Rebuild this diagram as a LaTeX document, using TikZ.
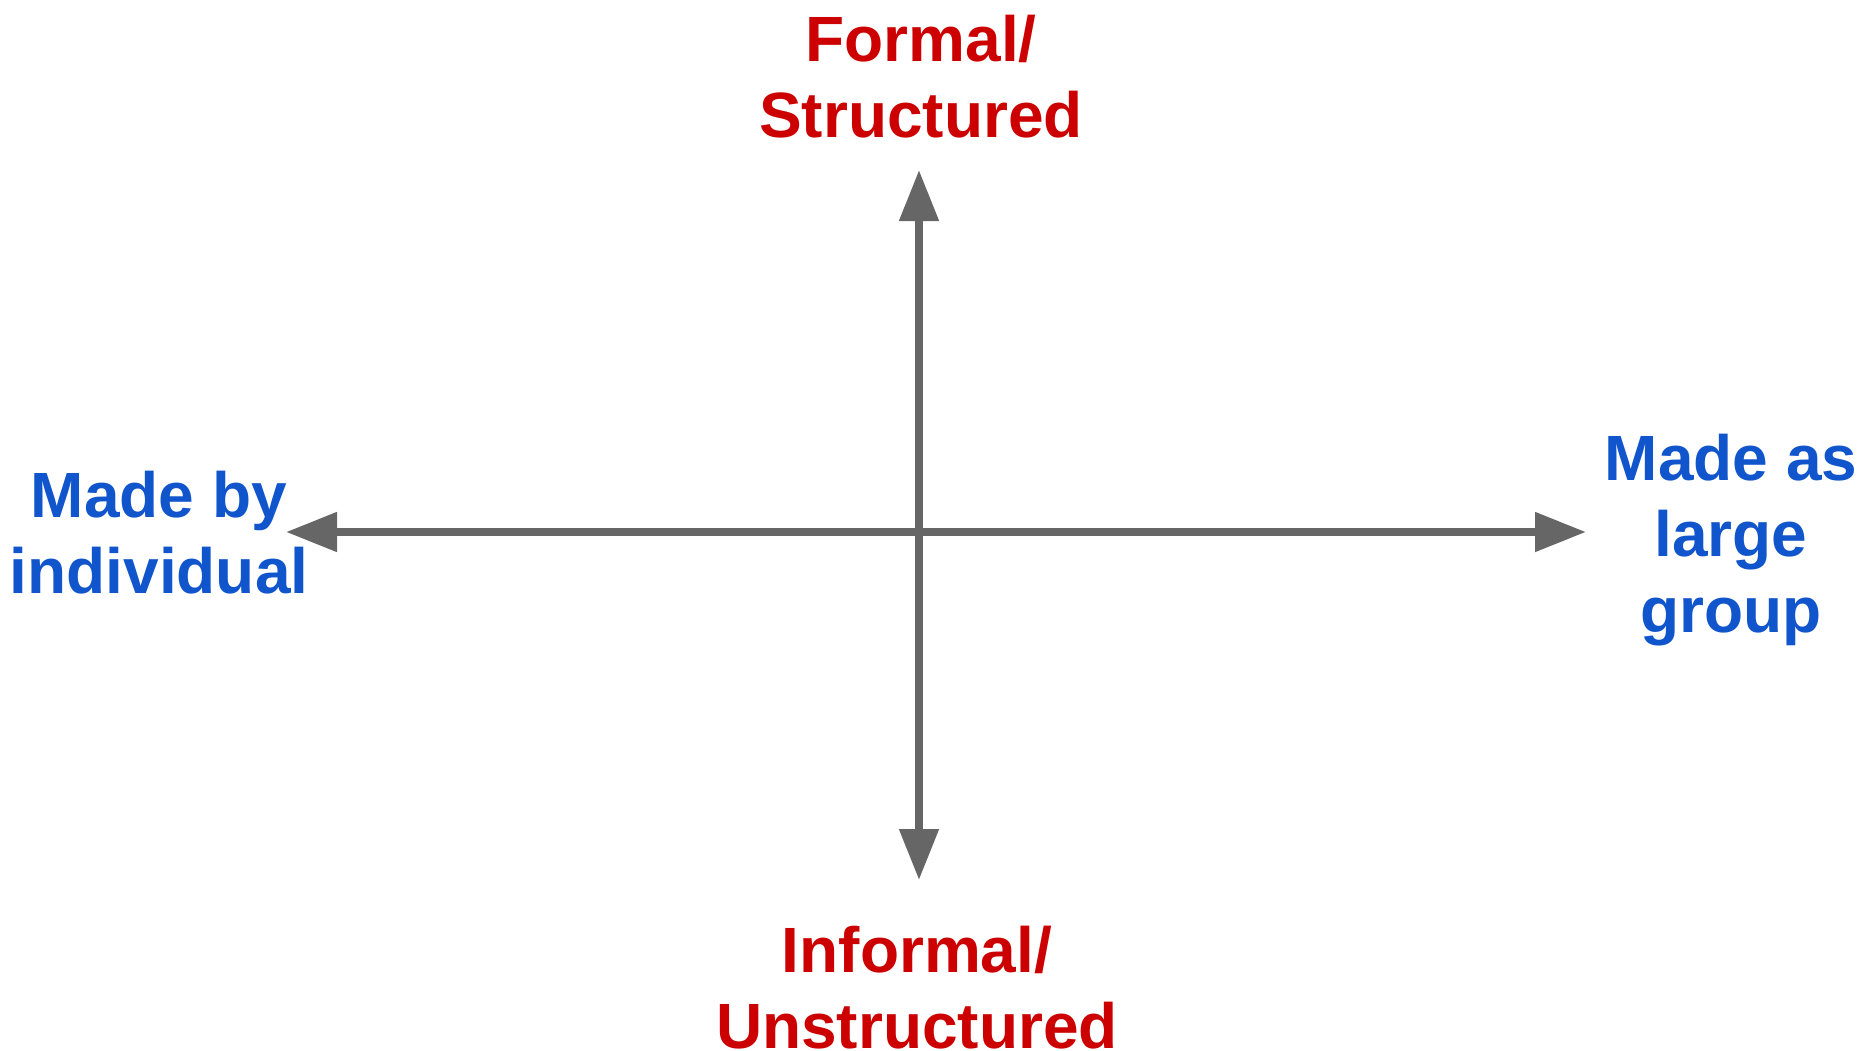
\documentclass[tikz,border=0pt]{standalone}
\usepackage{fontspec}
\setmainfont{Liberation Sans}
\usetikzlibrary{arrows.meta}
\definecolor{axisgray}{HTML}{666666}
\definecolor{labelred}{HTML}{CC0000}
\definecolor{labelblue}{HTML}{1155CC}
\begin{document}
\begin{tikzpicture}[x=0.5pt,y=-0.5pt,
  axisline/.style={draw=axisgray,line width=4pt,
    {Triangle[length=25.5pt,width=19pt]}-{Triangle[length=25.5pt,width=19pt]}},
  axislabel/.style={align=center,inner sep=0pt,anchor=base,
    font=\bfseries\fontsize{32}{38}\selectfont},
  redlabel/.style={axislabel,text=labelred},
  bluelabel/.style={axislabel,text=labelblue}]
\useasboundingbox (0,0) rectangle (1864,1050);
\coordinate (top) at (919,170);
\coordinate (bottom) at (919,880);
\coordinate (left) at (286,532);
\coordinate (right) at (1586,532);
\draw[axisline] (bottom) -- (top);
\draw[axisline] (left) -- (right);
\node[redlabel] (formal) at (921,137) {Formal/\\Structured};
\node[redlabel] (informal) at (917,1048) {Informal/\\Unstructured};
\node[bluelabel] (individual) at (159,593) {Made by\\individual};
\node[bluelabel] (group) at (1731,632) {Made as\\large\\group};
\end{tikzpicture}
\end{document}
